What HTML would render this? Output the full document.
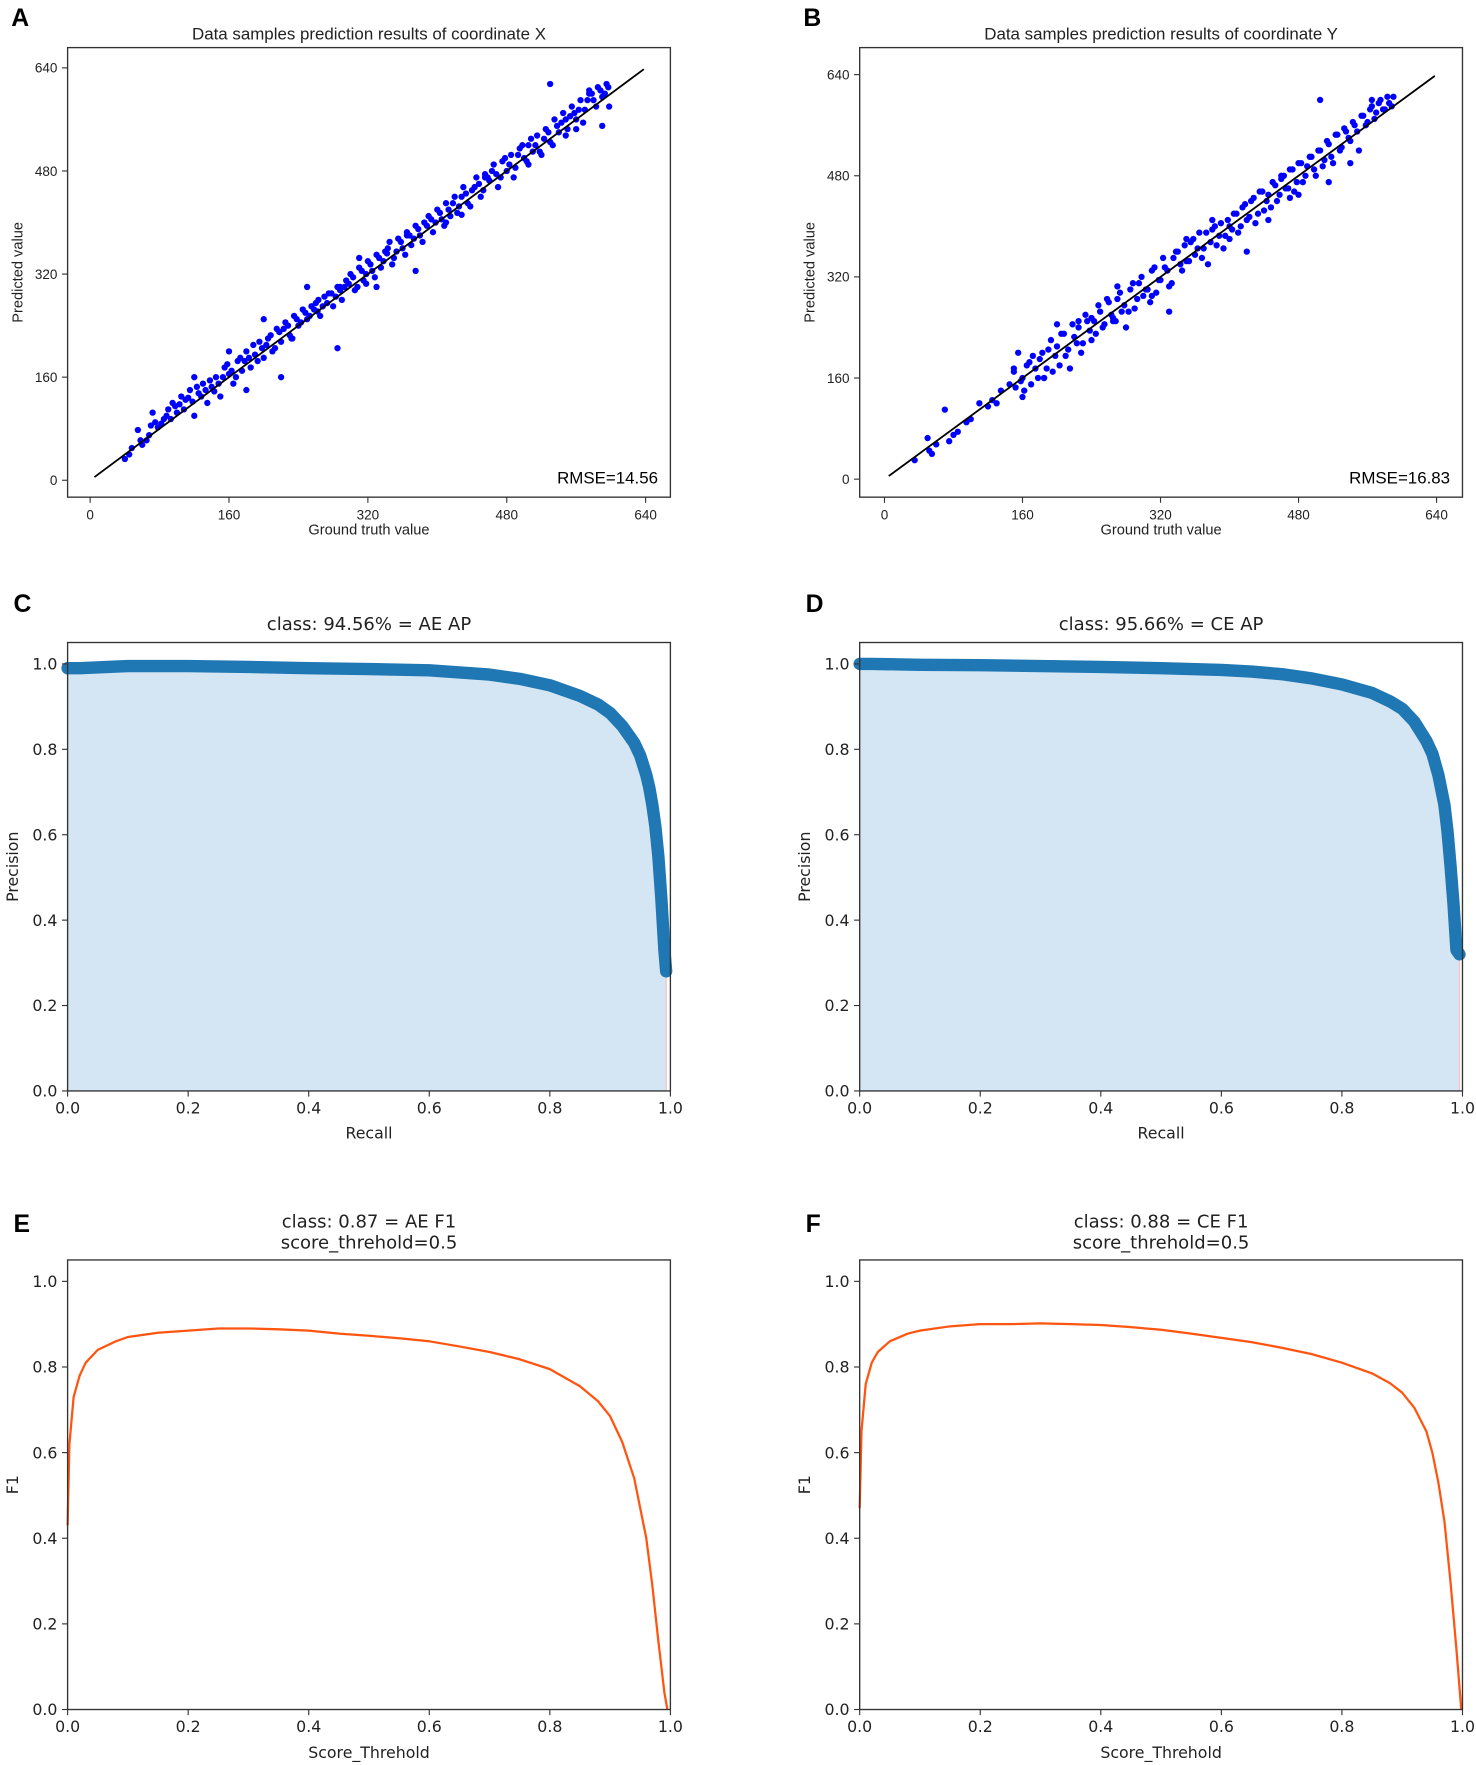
<!DOCTYPE html>
<html><head><meta charset="utf-8"><style>
html,body{margin:0;padding:0;background:#fff;}
svg{display:block;font-family:"DejaVu Sans","Liberation Sans",sans-serif;}
</style></head><body>
<svg id="fig" width="1476" height="1765" viewBox="0 0 1310 1566" xmlns="http://www.w3.org/2000/svg"></svg>
<script>
const ticksScatter = [0,160,320,480,640];
const ticksUnit = [0.0,0.2,0.4,0.6,0.8,1.0];
const gtX = [40,48,55,60,65,70,72,78,85,90,95,100,105,110,115,120,125,130,135,140,145,150,155,160,165,170,175,180,185,190,195,200,205,210,215,220,225,230,235,240,245,250,255,260,265,270,275,280,285,290,295,300,305,310,315,320,325,330,335,340,345,350,355,360,365,370,375,380,385,390,395,400,405,410,415,420,425,430,435,440,445,450,455,460,465,470,475,480,485,490,495,500,505,510,515,520,525,530,535,540,545,550,555,560,565,570,575,580,585,590,595,598,590,560,530,285,375,330,310,250,200,220,180,160,120,262,318,342,410,455,505,548,575,232,288,365,428];
const predX = [33,50,78,55,62,85,105,82,95,110,120,105,130,125,140,100,135,150,120,145,160,130,175,165,150,185,170,200,175,195,215,190,220,200,235,215,245,225,255,240,265,250,270,275,255,285,290,270,300,280,310,320,295,330,310,340,325,350,330,355,370,345,375,360,385,365,395,380,400,410,385,420,405,430,410,440,425,455,430,450,470,440,475,465,490,455,495,480,505,485,515,500,520,510,535,505,545,525,560,540,570,545,580,560,590,575,600,590,610,595,615,580,550,545,615,205,325,300,345,300,250,160,140,200,160,262,305,352,400,470,490,560,605,220,300,380,412];
const gtX2 = [45,58,68,75,82,88,93,98,103,108,113,118,123,128,133,138,143,148,153,158,163,168,173,178,183,188,193,198,203,208,213,218,223,228,233,238,243,248,253,258,263,268,273,278,283,288,293,298,303,308,313,318,323,328,333,338,343,348,353,358,363,368,373,378,383,388,393,398,403,408,413,418,423,428,433,438,443,448,453,458,463,468,473,478,483,488,493,498,503,508,513,518,523,528,533,538,543,548,553,558,563,568,573,578,583,588,593,597];
const predX2 = [40,62,70,90,88,100,95,115,118,110,128,122,145,130,140,155,138,150,160,180,170,160,190,185,190,210,185,205,210,225,205,230,235,240,220,250,245,260,255,265,280,270,275,290,285,295,300,305,315,300,325,320,335,315,345,340,360,335,355,370,350,380,375,390,370,395,405,400,415,395,420,430,415,440,445,425,455,460,450,470,480,475,470,500,490,470,505,520,495,530,520,510,530,540,520,550,555,535,565,570,575,555,590,600,580,605,600,610];
const gtY = [35,50,52,55,70,75,85,95,110,120,125,135,150,152,155,160,165,170,172,175,180,185,190,195,200,205,210,215,220,225,230,235,240,245,250,255,260,265,270,275,280,285,290,295,300,305,310,315,320,325,330,335,340,345,350,355,360,365,370,375,380,385,390,395,400,405,410,415,420,425,430,435,440,445,450,455,460,465,470,475,480,485,490,495,500,505,510,515,520,525,530,535,540,545,550,555,560,565,570,575,580,585,590,505,480,160,200,240,270,330,400,420,445,540,470,380,310,265,225,185,350,460,515,565];
const predY = [30,65,45,40,110,60,75,90,120,115,125,140,170,145,200,160,180,150,195,175,190,160,205,170,210,230,195,175,225,240,215,250,255,230,265,245,280,255,305,265,240,300,270,310,290,300,330,295,315,335,305,350,360,330,345,375,355,390,365,340,395,370,405,385,400,420,390,430,410,440,405,455,425,450,470,440,475,460,490,455,500,470,495,510,480,520,505,530,500,545,525,550,535,560,520,575,565,590,580,600,585,595,605,600,450,130,245,220,285,265,380,360,410,500,445,410,290,250,250,160,380,480,470,600];
const gtY2 = [60,80,100,130,145,150,158,162,168,178,183,188,193,198,203,208,213,218,223,228,233,238,243,248,253,258,263,268,273,278,283,288,293,298,303,308,313,318,323,328,333,338,343,348,353,358,363,368,373,378,383,388,393,398,403,408,413,418,423,428,433,438,443,448,453,458,463,468,473,478,483,488,493,498,503,508,513,518,523,528,533,538,543,548,553,558,563,568,573,578,583,588];
const predY2 = [55,70,95,120,150,175,155,140,185,160,200,175,220,195,180,230,205,245,215,200,260,235,250,275,240,285,260,250,295,275,265,310,285,320,300,280,335,315,350,330,310,360,340,370,345,380,365,350,390,375,400,385,365,410,395,420,400,435,415,445,420,455,440,430,465,450,480,460,490,470,500,480,510,490,520,495,535,510,545,520,555,540,565,550,575,560,585,570,595,585,605,590];
const recallC = [0,0.02,0.1,0.2,0.3,0.4,0.5,0.6,0.65,0.7,0.75,0.8,0.85,0.88,0.9,0.92,0.94,0.95,0.96,0.965,0.97,0.975,0.98,0.985,0.99,0.993];
const precisionC = [0.99,0.99,0.995,0.995,0.993,0.99,0.988,0.985,0.98,0.975,0.965,0.95,0.925,0.905,0.885,0.855,0.815,0.785,0.74,0.71,0.67,0.62,0.55,0.45,0.33,0.28];
const recallD = [0,0.02,0.1,0.2,0.3,0.4,0.5,0.6,0.65,0.7,0.75,0.8,0.85,0.88,0.9,0.92,0.94,0.95,0.96,0.97,0.975,0.98,0.985,0.99,0.995];
const precisionD = [1.0,1.0,0.998,0.997,0.995,0.993,0.99,0.986,0.982,0.976,0.966,0.952,0.932,0.912,0.895,0.865,0.82,0.79,0.74,0.67,0.61,0.53,0.44,0.33,0.32];
const thrE = [0,0.003,0.01,0.02,0.03,0.05,0.08,0.1,0.15,0.2,0.25,0.3,0.35,0.4,0.45,0.5,0.55,0.6,0.65,0.7,0.75,0.8,0.85,0.88,0.9,0.92,0.94,0.96,0.97,0.98,0.99,0.995];
const f1E = [0.43,0.62,0.73,0.78,0.81,0.84,0.86,0.87,0.88,0.885,0.89,0.89,0.888,0.885,0.878,0.873,0.867,0.86,0.848,0.835,0.818,0.795,0.755,0.72,0.685,0.625,0.54,0.4,0.29,0.16,0.04,0];
const thrF = [0,0.003,0.01,0.02,0.03,0.05,0.08,0.1,0.15,0.2,0.25,0.3,0.35,0.4,0.45,0.5,0.55,0.6,0.65,0.7,0.75,0.8,0.85,0.88,0.9,0.92,0.94,0.95,0.96,0.97,0.98,0.99,0.998];
const f1F = [0.47,0.65,0.76,0.81,0.835,0.86,0.878,0.885,0.895,0.9,0.9,0.902,0.9,0.898,0.893,0.887,0.878,0.868,0.858,0.845,0.83,0.81,0.785,0.762,0.74,0.705,0.65,0.6,0.53,0.44,0.3,0.14,0];

const svg = document.getElementById('fig');
const NS = 'http://www.w3.org/2000/svg';
function mk(tag, attrs, parent){const e=document.createElementNS(NS,tag);for(const k in attrs)e.setAttribute(k,attrs[k]);(parent||svg).appendChild(e);return e;}
function txt(x,y,s,size,anchor,parent,extra){const t=mk('text',Object.assign({x:x,y:y,'font-size':size,'text-anchor':anchor||'middle',fill:'#222'},extra||{}),parent);t.textContent=s;return t;}

function panel(o){
  const g = mk('g',{});
  
  
  if(o.font) g.setAttribute('font-family', o.font);
  const sx = v => o.px0 + (v - o.xmin)/(o.xmax - o.xmin)*(o.px1 - o.px0);
  const sy = v => o.py0 + (v - o.ymin)/(o.ymax - o.ymin)*(o.py1 - o.py0);
  o.draw(g, sx, sy);
  const fr = mk('rect',{x:o.L,y:o.T,width:o.R-o.L,height:o.B-o.T,fill:'none',stroke:'#333','stroke-width':1.2},g);
  
  
  o.xticks.forEach(v=>{const x=sx(v);mk('line',{x1:x,x2:x,y1:o.B,y2:o.B+5,stroke:'#333'},g);const t=txt(x,o.B+20,o.fmt(v),o.tfs,'middle',g);});
  o.yticks.forEach(v=>{const y=sy(v);mk('line',{x1:o.L-5,x2:o.L,y1:y,y2:y,stroke:'#333'},g);const t=txt(o.L-9,y+o.tfs*0.36,o.fmt(v),o.tfs,'end',g);});
  o.title.forEach((s,i)=>{const t=txt((o.L+o.R)/2,o.titleY+i*19,s,o.ttfs,'middle',g);});
  const xl=txt((o.L+o.R)/2,o.xlY,o.xlabel,o.lfs,'middle',g);
  const yl=txt(0,0,o.ylabel,o.lfs,'middle',g,{transform:`translate(${o.ylX},${(o.T+o.B)/2}) rotate(-90)`});
  const lt=txt(o.letterX,o.letterY,o.letter,22,'start',g,{'font-weight':'bold',fill:'#000','font-family':'Liberation Sans, sans-serif'});
}

function scatterDraw(gt,pred,rmse){return function(g,sx,sy){
  for(let i=0;i<gt.length;i++){const c=mk('circle',{cx:sx(gt[i]),cy:sy(pred[i]),r:2.8,fill:'#0000ff'},g);}
  const l=mk('line',{x1:sx(5),y1:sy(5),x2:sx(638),y2:sy(638),stroke:'#000','stroke-width':1.6},g);
  
  
  const t=txt(this.R-11,this.B-12,rmse,15,'end',g,{fill:'#000','font-family':'Liberation Sans, sans-serif'});
};}
function prDraw(rec,prec){return function(g,sx,sy){
  let d=`M${sx(rec[0])},${sy(0)}`;rec.forEach((r,i)=>d+=` L${sx(r)},${sy(prec[i])}`);d+=` L${sx(rec[rec.length-1])},${sy(0)} Z`;
  const a=mk('path',{d:d,fill:'#d4e6f4',stroke:'none'},g);
  const last=rec[rec.length-1];mk('line',{x1:sx(last),x2:sx(last),y1:sy(prec[prec.length-1]),y2:sy(0),stroke:'#f4c4c8','stroke-width':1.2},g);
  let p='';rec.forEach((r,i)=>p+=(i?' L':'M')+sx(r)+','+sy(prec[i]));
  const l=mk('path',{d:p,fill:'none',stroke:'#1f77b4','stroke-width':11,'stroke-linejoin':'round','stroke-linecap':'round'},g);
};}
function f1Draw(th,f1){return function(g,sx,sy){
  let p='';th.forEach((t,i)=>p+=(i?' L':'M')+sx(t)+','+sy(f1[i]));
  const l=mk('path',{d:p,fill:'none',stroke:'#ff5510','stroke-width':2,'stroke-linejoin':'round'},g);
};}

const colL=[60,595], colR=[763,1298];
const fmtInt=v=>String(v), fmt1=v=>v.toFixed(1);
[[colL,'A','coordinate X',gtX.concat(gtX2),predX.concat(predX2),'RMSE=14.56',80,573,60,426],[colR,'B','coordinate Y',gtY.concat(gtY2),predY.concat(predY2),'RMSE=16.83',785,1275,66,425]].forEach(c=>{
  const o={name:'scatter-panel-'+c[1].toLowerCase(),font:'Liberation Sans, sans-serif',L:c[0][0],R:c[0][1],T:42,B:441,xmin:0,xmax:640,ymin:0,ymax:640,px0:c[6],px1:c[7],py0:c[9],py1:c[8],
    xticks:ticksScatter,yticks:ticksScatter,fmt:fmtInt,tfs:12,ttfs:15,lfs:13,title:['Data samples prediction results of coordinate '+c[2].slice(-1)],titleY:35,
    xlabel:'Ground truth value',xlY:474,ylabel:'Predicted value',ylX:c[0][0]-40,letter:c[1],letterX:c[0][0]-50,letterY:23};
  o.draw=scatterDraw(c[3],c[4],c[5]).bind(o);panel(o);
});
[[colL,'C','class: 94.56% = AE AP',recallC,precisionC],[colR,'D','class: 95.66% = CE AP',recallD,precisionD]].forEach(c=>{
  const o={name:'pr-panel-'+c[1].toLowerCase(),L:c[0][0],R:c[0][1],T:570,B:968,xmin:0,xmax:1,ymin:0,ymax:1,px0:c[0][0],px1:c[0][1],py0:968,py1:589,
    xticks:ticksUnit,yticks:ticksUnit,fmt:fmt1,tfs:14,ttfs:16,lfs:14,title:[c[2]],titleY:559,xlabel:'Recall',xlY:1010,ylabel:'Precision',ylX:c[0][0]-44,letter:c[1],letterX:c[0][0]-48,letterY:543};
  o.draw=prDraw(c[3],c[4]);panel(o);
});
[[colL,'E','class: 0.87 = AE F1',thrE,f1E],[colR,'F','class: 0.88 = CE F1',thrF,f1F]].forEach(c=>{
  const o={name:'f1-panel-'+c[1].toLowerCase(),L:c[0][0],R:c[0][1],T:1118,B:1517,xmin:0,xmax:1,ymin:0,ymax:1,px0:c[0][0],px1:c[0][1],py0:1517,py1:1137,
    xticks:ticksUnit,yticks:ticksUnit,fmt:fmt1,tfs:14,ttfs:16,lfs:14,title:[c[2],'score_threhold=0.5'],titleY:1089,xlabel:'Score_Threhold',xlY:1560,ylabel:'F1',ylX:c[0][0]-44,letter:c[1],letterX:c[0][0]-48,letterY:1093};
  o.draw=f1Draw(c[3],c[4]);panel(o);
});
</script>
</body></html>
